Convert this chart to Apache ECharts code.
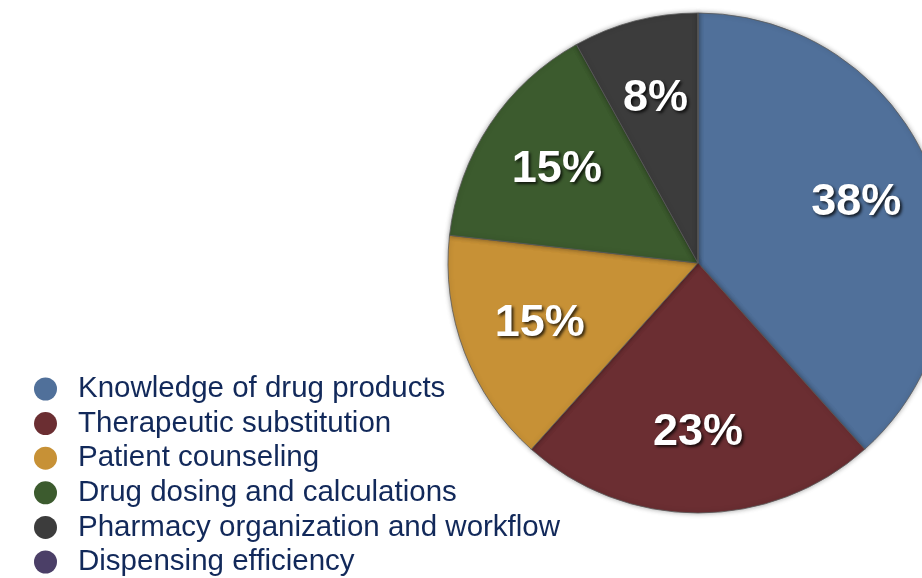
<!DOCTYPE html>
<html>
<head>
<meta charset="utf-8">
<script src="https://cdn.jsdelivr.net/npm/echarts@6/dist/echarts.min.js"></script>
<style>
html,body{margin:0;padding:0;background:#fff;}
#chart{width:922px;height:578px;}
</style>
</head>
<body>
<div id="chart"></div>
<script>
const categories = ["Knowledge of drug products","Therapeutic substitution","Patient counseling","Drug dosing and calculations","Pharmacy organization and workflow","Dispensing efficiency"];
const values = [38, 23, 15, 15, 8, 0];
const colors = ["#50709a","#6b2e32","#c79136","#3c5b2e","#3c3c3c","#4b3f67"];

const data = categories.map((c, i) => ({name: c, value: values[i], itemStyle: {color: colors[i]}}));
const labelData = categories.map((c, i) => ({name: c, value: values[i]}));

const chart = echarts.init(document.getElementById('chart'), null, {renderer: 'canvas'});
chart.setOption({
  animation: false,
  backgroundColor: '#ffffff',
  legend: {
    orient: 'vertical',
    left: 29,
    top: 369,
    height: 220,
    data: categories,
    icon: 'circle',
    itemWidth: 23,
    itemHeight: 23,
    itemGap: 4.6,
    selectedMode: false,
    itemStyle: {borderWidth: 0, shadowBlur: 0},
    textStyle: {
      fontFamily: 'Liberation Sans, Arial, sans-serif',
      fontSize: 29.5,
      color: '#12295a',
      lineHeight: 23,
      padding: [0, 0, 0, 16]
    }
  },
  series: [
    {
      type: 'pie',
      center: [698, 263],
      radius: [0, 250],
      startAngle: 90,
      clockwise: true,
      silent: true,
      label: {show: false},
      labelLine: {show: false},
      itemStyle: {borderColor: '#5a5a5a', borderWidth: 0.8, shadowBlur: 5, shadowColor: 'rgba(0,0,0,0.35)'},
      data: data
    },
    {
      type: 'pie',
      center: [698, 263],
      radius: [83, 250],
      startAngle: 90,
      clockwise: true,
      silent: true,
      itemStyle: {color: 'rgba(0,0,0,0)'},
      labelLine: {show: false},
      label: {
        show: true,
        position: 'inside',
        formatter: p => p.value > 0 ? p.value + '%' : '',
        color: '#ffffff',
        fontFamily: 'Liberation Sans, Arial, sans-serif',
        fontWeight: 'bold',
        fontSize: 45,
        textShadowColor: 'rgba(0,0,0,0.75)',
        textShadowBlur: 3,
        textShadowOffsetX: 2,
        textShadowOffsetY: 2
      },
      data: labelData
    }
  ]
});
</script>
</body>
</html>
